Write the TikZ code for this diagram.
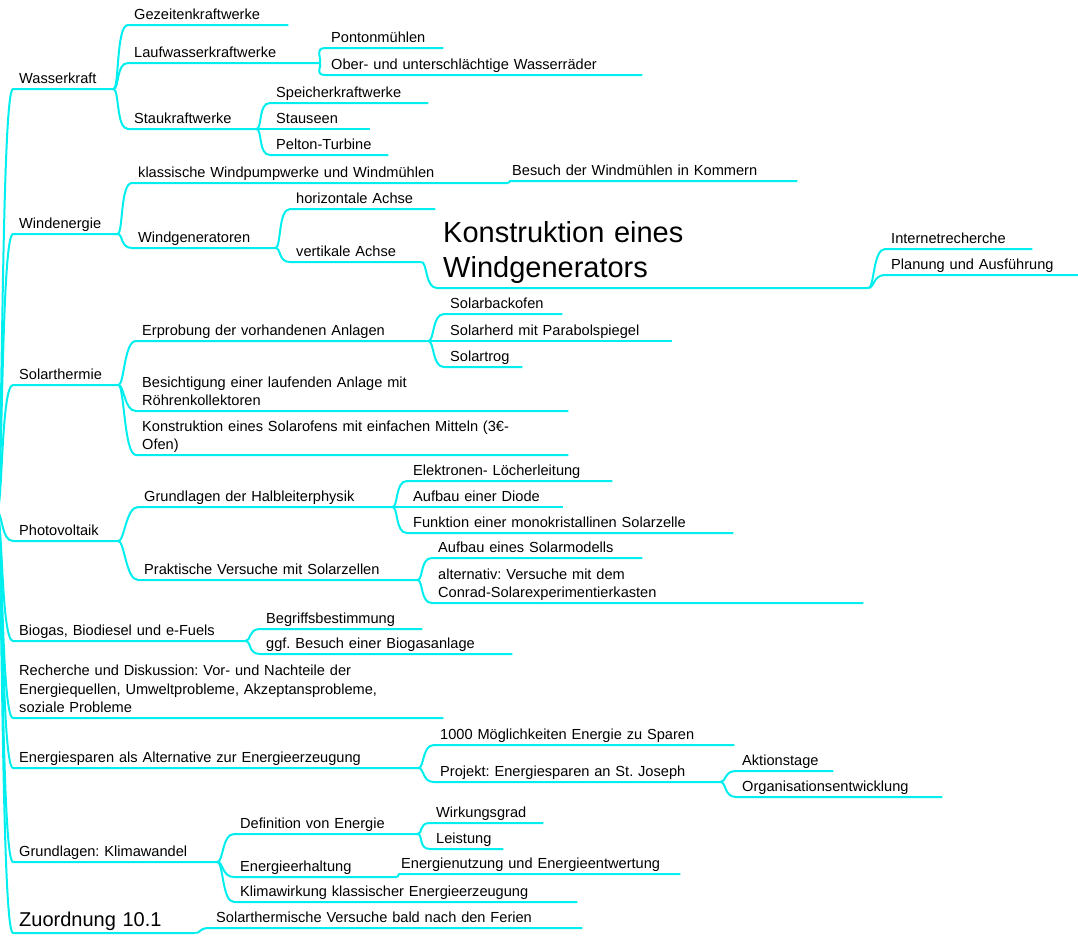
\documentclass[tikz,border=0pt]{standalone}
\usepackage{fontspec}
\setmainfont{Liberation Sans}
\frenchspacing
\definecolor{mapcyan}{RGB}{0,238,238}
\newcommand{\mapfont}{\fontsize{14.6}{18.7}\selectfont}
\newcommand{\bigmapfont}{\fontsize{29}{35}\selectfont}
\newcommand{\midmapfont}{\fontsize{20}{24}\selectfont}

\tikzset{
  topic/.style={anchor=south west,inner xsep=6pt,inner ysep=2pt,text depth=3pt,align=left,font=\mapfont},
  twolines/.style={text depth=21.7pt},
  threelines/.style={text depth=40.4pt},
  link/.style={draw=mapcyan,line width=2pt,
    to path={(\tikztotarget.south east) .. controls +(6,0) and +(-12,0) .. (\tikztostart.south west) -- (\tikztostart.south east)}},
  joint/.style={draw=mapcyan,line width=2pt,
    to path={(\tikztotarget.south east) -- (\tikztostart.south west) -- (\tikztostart.south east)}}
}

\begin{document}
\begin{tikzpicture}[x=1pt,y=-1pt]
\useasboundingbox (0,0) rectangle (1078,946);
\node[inner sep=0pt] (root) at (-4,511) {};

\node[topic,text width=88pt] (wk) at (13,89) {Wasserkraft} edge[link] (root);
\node[topic,text width=148pt] (gez) at (128,25) {Gezeitenkraftwerke} edge[link] (wk);
\node[topic,text width=178pt] (lauf) at (128,63) {Laufwasserkraftwerke} edge[link] (wk);
\node[topic,text width=106pt] (ponton) at (325,48) {Pontonmühlen} edge[link] (lauf);
\node[topic,text width=305pt] (rad) at (325,75) {Ober- und unterschlächtige Wasserräder} edge[link] (lauf);
\node[topic,text width=116pt] (stau) at (128,129) {Staukraftwerke} edge[link] (wk);
\node[topic,text width=146pt] (speicher) at (270,103) {Speicherkraftwerke} edge[link] (stau);
\node[topic,text width=88pt] (see) at (270,129) {Stauseen} edge[link] (stau);
\node[topic,text width=106pt] (pelton) at (270,155) {Pelton-Turbine} edge[link] (stau);

\node[topic,text width=92pt] (wind) at (13,234) {Windenergie} edge[link] (root);
\node[topic,text width=364pt] (muehle) at (132,183) {klassische Windpumpwerke und Windmühlen} edge[link] (wind);
\node[topic,inner xsep=2pt,text width=283pt] (kommern) at (510,181) {Besuch der Windmühlen in Kommern} edge[joint] (muehle);
\node[topic,text width=131pt] (wgen) at (132,248) {Windgeneratoren} edge[link] (wind);
\node[topic,text width=133pt] (hachse) at (290,209) {horizontale Achse} edge[link] (wgen);
\node[topic,text width=119pt] (vachse) at (290,262) {vertikale Achse} edge[link] (wgen);
\node[topic,text width=419pt,font=\bigmapfont,text depth=43pt] (bau) at (437,288) {Konstruktion eines\\Windgenerators} edge[link] (vachse);
\node[topic,text width=135pt] (inet) at (885,249) {Internetrecherche} edge[link] (bau);
\node[topic,text width=181pt] (plan) at (885,275) {Planung und Ausführung} edge[link] (bau);

\node[topic,text width=93pt] (sth) at (13,385) {Solarthermie} edge[link] (root);
\node[topic,text width=280pt] (erprob) at (136,341) {Erprobung der vorhandenen Anlagen} edge[link] (sth);
\node[topic,text width=106pt] (backofen) at (444,314) {Solarbackofen} edge[link] (erprob);
\node[topic,text width=216pt] (herd) at (444,341) {Solarherd mit Parabolspiegel} edge[link] (erprob);
\node[topic,text width=66pt] (trog) at (444,367) {Solartrog} edge[link] (erprob);
\node[topic,twolines,text width=420pt] (roehre) at (136,411) {Besichtigung einer laufenden Anlage mit\\Röhrenkollektoren} edge[link] (sth);
\node[topic,twolines,text width=420pt] (ofen) at (136,455) {Konstruktion eines Solarofens mit einfachen Mitteln (3€-\\Ofen)} edge[link] (sth);

\node[topic,text width=93pt] (pv) at (13,541) {Photovoltaik} edge[link] (root);
\node[topic,text width=242pt] (halbl) at (138,507) {Grundlagen der Halbleiterphysik} edge[link] (pv);
\node[topic,text width=193pt] (loch) at (407,481) {Elektronen- Löcherleitung} edge[link] (halbl);
\node[topic,text width=144pt] (diode) at (407,507) {Aufbau einer Diode} edge[link] (halbl);
\node[topic,text width=314pt] (zelle) at (407,533) {Funktion einer monokristallinen Solarzelle} edge[link] (halbl);
\node[topic,text width=267pt] (praxis) at (138,580) {Praktische Versuche mit Solarzellen} edge[link] (pv);
\node[topic,text width=198pt] (modell) at (432,558) {Aufbau eines Solarmodells} edge[link] (praxis);
\node[topic,twolines,text width=419pt] (kasten) at (432,603) {alternativ: Versuche mit dem\\Conrad-Solarexperimentierkasten} edge[link] (praxis);

\node[topic,text width=220pt] (bio) at (13,641) {Biogas, Biodiesel und e-Fuels} edge[link] (root);
\node[topic,text width=150pt] (begriff) at (260,629) {Begriffsbestimmung} edge[link] (bio);
\node[topic,text width=240pt] (anlage) at (260,654) {ggf. Besuch einer Biogasanlage} edge[link] (bio);

\node[topic,threelines,text width=418pt] (diskus) at (13,718) {Recherche und Diskussion: Vor- und Nachteile der\\Energiequellen, Umweltprobleme, Akzeptansprobleme,\\soziale Probleme} edge[link] (root);

\node[topic,text width=393pt] (sparen) at (13,768) {Energiesparen als Alternative zur Energieerzeugung} edge[link] (root);
\node[topic,text width=288pt] (tipps) at (434,745) {1000 Möglichkeiten Energie zu Sparen} edge[link] (sparen);
\node[topic,text width=274pt] (projekt) at (434,782) {Projekt: Energiesparen an St. Joseph} edge[link] (sparen);
\node[topic,text width=85pt] (aktion) at (736,771) {Aktionstage} edge[link] (projekt);
\node[topic,text width=194pt] (orga) at (736,797) {Organisationsentwicklung} edge[link] (projekt);

\node[topic,text width=192pt] (klima) at (13,862) {Grundlagen: Klimawandel} edge[link] (root);
\node[topic,text width=171pt] (def) at (234,834) {Definition von Energie} edge[link] (klima);
\node[topic,text width=101pt] (wirkung) at (430,823) {Wirkungsgrad} edge[link] (def);
\node[topic,text width=61pt] (leistung) at (430,849) {Leistung} edge[link] (def);
\node[topic,text width=151pt] (erhalt) at (234,877) {Energieerhaltung} edge[link] (klima);
\node[topic,inner xsep=2pt,text width=277pt] (entwert) at (399,874) {Energienutzung und Energieentwertung} edge[joint] (erhalt);
\node[topic,text width=331pt] (klimaw) at (234,902) {Klimawirkung klassischer Energieerzeugung} edge[link] (klima);

\node[topic,text width=170pt,font=\midmapfont,text depth=4pt] (zuord) at (13,933) {Zuordnung 10.1} edge[link] (root);
\node[topic,text width=360pt] (ferien) at (210,928) {Solarthermische Versuche bald nach den Ferien} edge[link] (zuord);
\end{tikzpicture}
\end{document}
